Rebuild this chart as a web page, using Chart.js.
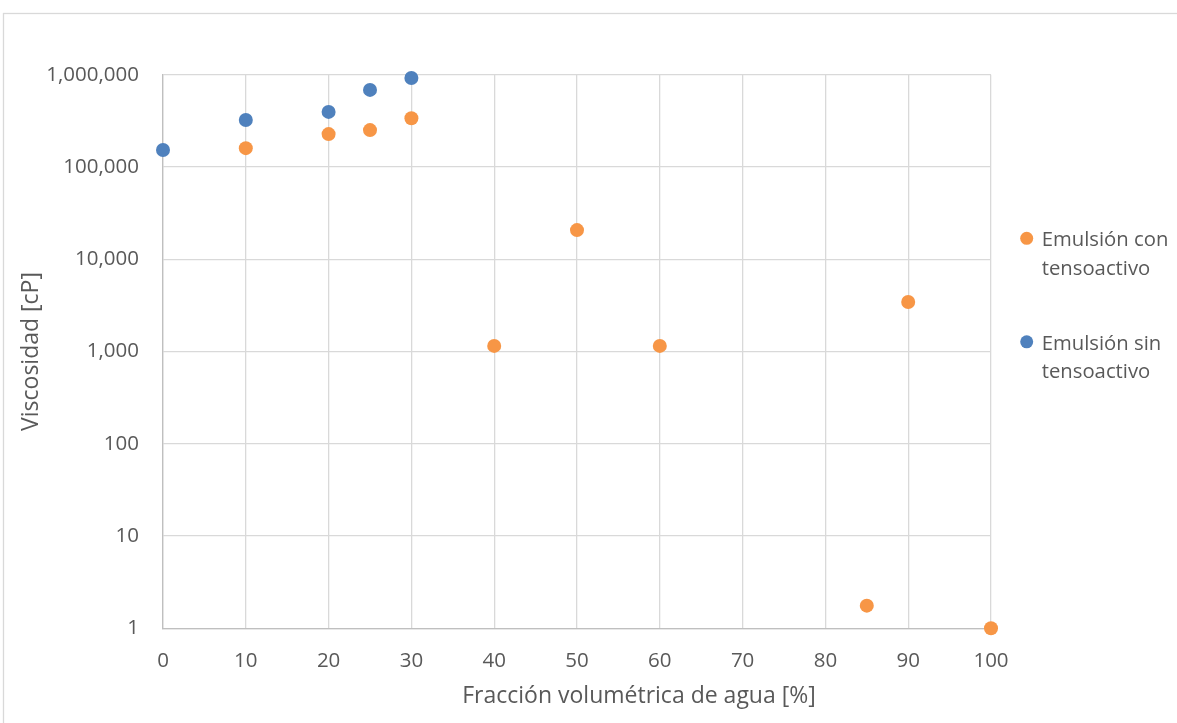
<!DOCTYPE html>
<html lang="es">
<head>
<meta charset="utf-8">
<title>Viscosidad de emulsiones</title>
<script src="https://cdn.jsdelivr.net/npm/chart.js@4/dist/chart.umd.min.js"></script>
<style>
  html, body { margin: 0; padding: 0; background: #ffffff; }
  #wrap { width: 1177px; height: 723px; }
</style>
</head>
<body>
<div id="wrap"><canvas id="chart" width="1177" height="723"></canvas></div>
<script>
// Fracción volumétrica de agua [%] and viscosidad [cP] per series
const xConTensoactivo = [10, 20, 25, 30, 40, 50, 60, 85, 90, 100];
const viscConTensoactivo = [160000, 227000, 251000, 337000, 1150, 20700, 1150, 1.76, 3440, 1];

const xSinTensoactivo = [0, 10, 20, 25, 30];
const viscSinTensoactivo = [153000, 323000, 395000, 684000, 922000];

const seriesNames = [["Emulsión con", "tensoactivo"], ["Emulsión sin", "tensoactivo"]];
const seriesColors = ["#F79646", "#4F81BD"];

const yTickValues = [1, 10, 100, 1000, 10000, 100000, 1000000];
const xTickStep = 10;

const xTitle = 'Fracción volumétrica de agua [%]';
const yTitle = 'Viscosidad [cP]';

const FONT = "'Open Sans', 'Noto Sans', sans-serif";
const TEXT = "#595959";

function toPoints(xs, ys) {
  return xs.map((x, i) => ({ x: x, y: ys[i] }));
}

// Light frame around the whole chart object
const framePlugin = {
  id: 'frame',
  beforeDraw(chart) {
    const ctx = chart.ctx;
    ctx.save();
    ctx.fillStyle = '#ffffff';
    ctx.fillRect(0, 0, chart.width, chart.height);
    ctx.strokeStyle = '#d9d9d9';
    ctx.lineWidth = 1.3;
    ctx.strokeRect(3.5, 13.5, chart.width + 50, chart.height + 50);
    ctx.restore();
  }
};

// Horizontal axis title, placed a little right of the plot centre
const xTitlePlugin = {
  id: 'xTitle',
  afterDraw(chart) {
    const ctx = chart.ctx;
    const area = chart.chartArea;
    ctx.save();
    ctx.font = "23px " + FONT;
    ctx.fillStyle = TEXT;
    ctx.textAlign = 'center';
    ctx.textBaseline = 'middle';
    ctx.fillText(xTitle, (area.left + area.right) / 2 + 62, 696);
    ctx.restore();
  }
};

// Two-line legend entries on the right side
const sideLegend = {
  id: 'sideLegend',
  afterDraw(chart) {
    const ctx = chart.ctx;
    const area = chart.chartArea;
    const x0 = area.right + 35.7;
    const firstBaseline = 246;
    const lineGap = 28.7;
    const itemGap = 103.5;
    ctx.save();
    ctx.font = "20.3px " + FONT;
    ctx.textBaseline = 'alphabetic';
    ctx.textAlign = 'left';
    chart.data.datasets.forEach((ds, i) => {
      const base = firstBaseline + i * itemGap;
      ctx.fillStyle = ds.backgroundColor;
      ctx.beginPath();
      ctx.arc(x0, base - 7.7, 6.5, 0, Math.PI * 2);
      ctx.fill();
      ctx.fillStyle = TEXT;
      seriesNames[i].forEach((line, j) => {
        ctx.fillText(line, x0 + 15, base + j * lineGap);
      });
    });
    ctx.restore();
  }
};

new Chart(document.getElementById('chart'), {
  type: 'scatter',
  data: {
    datasets: [
      {
        label: seriesNames[0].join(' '),
        data: toPoints(xConTensoactivo, viscConTensoactivo),
        backgroundColor: seriesColors[0],
        borderColor: seriesColors[0],
        pointRadius: 7,
        borderWidth: 0,
        clip: false,
        order: 2
      },
      {
        label: seriesNames[1].join(' '),
        data: toPoints(xSinTensoactivo, viscSinTensoactivo),
        backgroundColor: seriesColors[1],
        borderColor: seriesColors[1],
        pointRadius: 7,
        borderWidth: 0,
        clip: false,
        order: 1
      }
    ]
  },
  options: {
    responsive: false,
    animation: false,
    events: [],
    layout: { padding: { left: 0, right: 186, top: 74.7, bottom: 0 } },
    plugins: {
      legend: { display: false },
      tooltip: { enabled: false }
    },
    scales: {
      x: {
        type: 'linear',
        min: 0,
        max: 100,
        ticks: {
          stepSize: xTickStep,
          padding: 20.4,
          color: TEXT,
          font: { family: FONT, size: 20.5 },
          maxRotation: 0
        },
        grid: { color: '#d9d9d9', lineWidth: 1.3, drawTicks: false },
        border: { color: '#bfbfbf', width: 1.3 },
        title: { display: false },
        afterFit(scale) { scale.height = 94.7; }
      },
      y: {
        type: 'logarithmic',
        min: 1,
        max: 1000000,
        afterBuildTicks(scale) {
          scale.ticks = yTickValues.map(v => ({ value: v, major: true }));
        },
        ticks: {
          padding: 24,
          color: TEXT,
          font: { family: FONT, size: 20.5 },
          callback: (v) => Number(v).toLocaleString('en-US')
        },
        grid: { color: '#d9d9d9', lineWidth: 1.3, drawTicks: false },
        border: { color: '#bfbfbf', width: 1.3 },
        title: {
          display: true,
          text: yTitle,
          color: TEXT,
          font: { family: FONT, size: 23 },
          padding: { top: 17.9, bottom: 0 }
        },
        afterFit(scale) { scale.width = 163; }
      }
    }
  },
  plugins: [framePlugin, xTitlePlugin, sideLegend]
});
</script>
</body>
</html>
